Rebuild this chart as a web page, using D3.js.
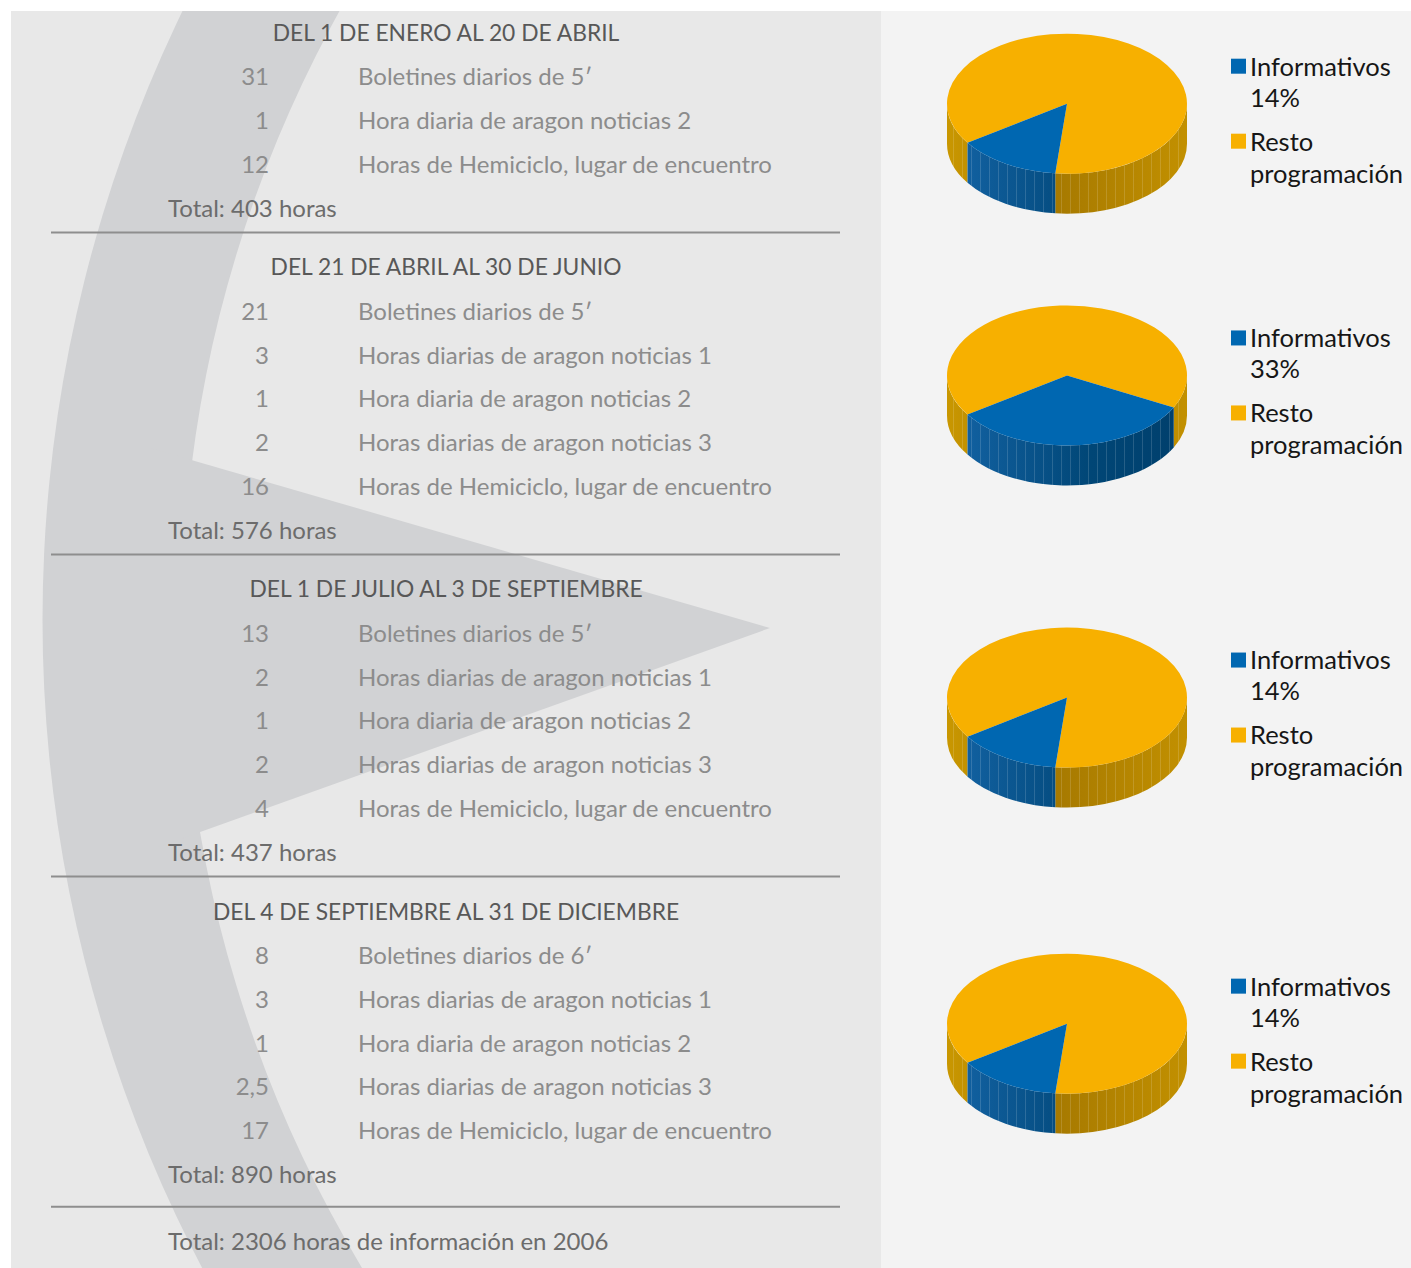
<!DOCTYPE html>
<html>
<head>
<meta charset="utf-8">
<script src="https://cdn.jsdelivr.net/npm/d3@7"></script>
<style>
	body { margin: 0; background: #fff; }
	svg { display: block; }
	text { font-family: Lato, 'Noto Sans', sans-serif; }
</style>
</head>
<body>
<script>
// data
const periods = [
	'DEL 1 DE ENERO AL 20 DE ABRIL',
	'DEL 21 DE ABRIL AL 30 DE JUNIO',
	'DEL 1 DE JULIO AL 3 DE SEPTIEMBRE',
	'DEL 4 DE SEPTIEMBRE AL 31 DE DICIEMBRE',
]
const hours = [
	[31, 1, 12],
	[21, 3, 1, 2, 16],
	[13, 2, 1, 2, 4],
	[8, 3, 1, 2.5, 17],
]
const programmes = [
	['Boletines diarios de 5′', 'Hora diaria de aragon noticias 2', 'Horas de Hemiciclo, lugar de encuentro'],
	['Boletines diarios de 5′', 'Horas diarias de aragon noticias 1', 'Hora diaria de aragon noticias 2', 'Horas diarias de aragon noticias 3', 'Horas de Hemiciclo, lugar de encuentro'],
	['Boletines diarios de 5′', 'Horas diarias de aragon noticias 1', 'Hora diaria de aragon noticias 2', 'Horas diarias de aragon noticias 3', 'Horas de Hemiciclo, lugar de encuentro'],
	['Boletines diarios de 6′', 'Horas diarias de aragon noticias 1', 'Hora diaria de aragon noticias 2', 'Horas diarias de aragon noticias 3', 'Horas de Hemiciclo, lugar de encuentro'],
]
const totals = [403, 576, 437, 890]
const grandTotal = 2306
const year = 2006
const series = ['Informativos', 'Resto programación']
const informativosPct = [14, 33, 14, 14]

// layout
const W = 1411, H = 1268
const panel = { x: 11, y: 11, split: 881 }
const rowStep = 43.85
const col = { heading: 446, number: 269, label: 358, total: 168 }
const rule = { x1: 51, x2: 840 }
const pie = { cx: 1067, rx: 120, ry: 70, depth: 40 }
const legend = { x: 1231, size: 15, textX: 1250 }
const colors = {
	blue: '#0067b1', yellow: '#f7b000',
	heading: '#585858', row: '#8c8c8c', total: '#6c6c6c', rule: '#8e8e8e',
}

const esFormat = d3.formatLocale({ decimal: ',', thousands: '.', grouping: [3], currency: ['', '€'] }).format(',~r')

const svg = d3.select('body').append('svg')
	.attr('width', W)
	.attr('height', H)

const defs = svg.append('defs')

// backgrounds
svg.append('rect').attr('width', W).attr('height', H).attr('fill', '#fff')
svg.append('rect')
	.attr('x', panel.x).attr('y', panel.y)
	.attr('width', panel.split - panel.x).attr('height', H - panel.y)
	.attr('fill', '#e8e8e8')
svg.append('rect')
	.attr('x', panel.split).attr('y', panel.y)
	.attr('width', W - panel.split).attr('height', H - panel.y)
	.attr('fill', '#f3f3f3')

// decorative arrow band
defs.append('clipPath').attr('id', 'leftPanel')
	.append('rect')
	.attr('x', panel.x).attr('y', panel.y)
	.attr('width', panel.split - panel.x).attr('height', H - panel.y)

const band = svg.append('g').attr('clip-path', 'url(#leftPanel)')
band.append('path')
	.attr('transform', 'translate(1438, 620)')
	.attr('d', d3.arc()({ innerRadius: 1256, outerRadius: 1395, startAngle: Math.PI, endAngle: 2 * Math.PI }))
	.attr('fill', '#d1d2d4')
band.append('path')
	.attr('d', d3.line()([[150, 448], [770, 628], [150, 850]]) + 'Z')
	.attr('fill', '#d1d2d4')

// text blocks
const sections = []
let y = 33
periods.forEach((p, i) => {
	const top = i === 0 ? panel.y : sections[i - 1].ruleY
	const headingY = y
	const rowsY = hours[i].map((_, j) => headingY + rowStep * (j + 1))
	const totalY = headingY + rowStep * (hours[i].length + 1)
	const ruleY = totalY + (i === periods.length - 1 ? 32 : 24)
	sections.push({ top, headingY, rowsY, totalY, ruleY })
	y = ruleY + 35
})

const text = svg.append('g').attr('class', 'text')
sections.forEach((s, i) => {
	const g = text.append('g')
	g.append('text')
		.attr('x', col.heading).attr('y', s.headingY).attr('dy', '0.35em')
		.attr('text-anchor', 'middle')
		.attr('font-size', 22.8).attr('fill', colors.heading)
		.text(periods[i])
	g.selectAll('.num').data(hours[i]).join('text')
		.attr('class', 'num')
		.attr('x', col.number).attr('y', (d, j) => s.rowsY[j]).attr('dy', '0.35em')
		.attr('text-anchor', 'end')
		.attr('font-size', 24).attr('fill', colors.row)
		.text(d => esFormat(d))
	g.selectAll('.lbl').data(programmes[i]).join('text')
		.attr('class', 'lbl')
		.attr('x', col.label).attr('y', (d, j) => s.rowsY[j]).attr('dy', '0.35em')
		.attr('font-size', 24).attr('fill', colors.row)
		.text(d => d)
	g.append('text')
		.attr('x', col.total).attr('y', s.totalY).attr('dy', '0.35em')
		.attr('font-size', 24).attr('fill', colors.total)
		.text(`Total: ${totals[i]} horas`)
	g.append('line')
		.attr('x1', rule.x1).attr('x2', rule.x2)
		.attr('y1', s.ruleY).attr('y2', s.ruleY)
		.attr('stroke', colors.rule).attr('stroke-width', 2)
})
const last = sections[sections.length - 1]
text.append('text')
	.attr('x', col.total).attr('y', last.ruleY + 35).attr('dy', '0.35em')
	.attr('font-size', 24).attr('fill', colors.total)
	.text(`Total: ${grandTotal} horas de información en ${year}`)

// 3d pies
const k = pie.ry / pie.rx
const D = pie.depth / k

const yellowSide = defs.append('linearGradient').attr('id', 'yellowSide')
	.attr('gradientUnits', 'userSpaceOnUse')
	.attr('x1', -pie.rx).attr('x2', pie.rx).attr('y1', 0).attr('y2', 0)
yellowSide.append('stop').attr('offset', 0).attr('stop-color', '#c99700')
yellowSide.append('stop').attr('offset', 0.45).attr('stop-color', '#a67900')
yellowSide.append('stop').attr('offset', 1).attr('stop-color', '#c29000')
const blueSide = defs.append('linearGradient').attr('id', 'blueSide')
	.attr('gradientUnits', 'userSpaceOnUse')
	.attr('x1', -pie.rx).attr('x2', pie.rx).attr('y1', 0).attr('y2', 0)
blueSide.append('stop').attr('offset', 0).attr('stop-color', '#1464a6')
blueSide.append('stop').attr('offset', 0.6).attr('stop-color', '#004676')
blueSide.append('stop').attr('offset', 1).attr('stop-color', '#003f6c')

const streaks = defs.append('pattern').attr('id', 'streaks')
	.attr('patternUnits', 'userSpaceOnUse')
	.attr('width', 9).attr('height', 400)
streaks.append('rect').attr('x', 3).attr('width', 0.8).attr('height', 400)
	.attr('fill', '#fff').attr('opacity', 0.18)

const endAngle = 236 * Math.PI / 180
const pieLayout = d3.pie()
	.sort(null)
	.value(d => d.value)
	.startAngle(endAngle)
	.endAngle(endAngle + 2 * Math.PI)
const arcTop = d3.arc().innerRadius(0).outerRadius(pie.rx)

const wallPath = (a0, a1) => {
	const p = d3.path()
	p.moveTo(pie.rx * Math.cos(a0), pie.rx * Math.sin(a0))
	p.arc(0, 0, pie.rx, a0, a1)
	p.lineTo(pie.rx * Math.cos(a1), D + pie.rx * Math.sin(a1))
	p.arc(0, D, pie.rx, a1, a0, true)
	p.closePath()
	return p.toString()
}

sections.forEach((s, i) => {
	const cy = (s.top + s.ruleY) / 2 - 18
	const data = [
		{ name: series[1], value: 100 - informativosPct[i], fill: colors.yellow, side: 'url(#yellowSide)' },
		{ name: series[0], value: informativosPct[i], fill: colors.blue, side: 'url(#blueSide)' },
	]
	const arcs = pieLayout(data)
	const g = svg.append('g')
		.attr('transform', `translate(${pie.cx}, ${cy}) scale(1, ${k})`)

	// front walls, screen angle range [0, PI]
	arcs.forEach(a => {
		const s0 = a.startAngle - Math.PI / 2
		const s1 = a.endAngle - Math.PI / 2
		for (let n = -1; n <= 2; n++) {
			const lo = Math.max(s0, 2 * Math.PI * n)
			const hi = Math.min(s1, 2 * Math.PI * n + Math.PI)
			if (lo < hi) {
				const d = wallPath(lo, hi)
				g.append('path').attr('d', d).attr('fill', a.data.side)
				g.append('path').attr('d', d).attr('fill', 'url(#streaks)')
			}
		}
	})

	g.selectAll('.top').data(arcs).join('path')
		.attr('class', 'top')
		.attr('d', arcTop)
		.attr('fill', d => d.data.fill)

	// legend
	const lg = svg.append('g').attr('transform', `translate(0, ${cy})`)
	lg.append('rect')
		.attr('x', legend.x).attr('y', -45)
		.attr('width', legend.size).attr('height', legend.size)
		.attr('fill', colors.blue)
	lg.append('text')
		.attr('x', legend.textX).attr('y', -37).attr('dy', '0.35em')
		.attr('font-size', 25.5).attr('fill', '#161616')
		.text(series[0])
	lg.append('text')
		.attr('x', legend.textX).attr('y', -6).attr('dy', '0.35em')
		.attr('font-size', 25.5).attr('fill', '#161616')
		.text(`${informativosPct[i]}%`)
	lg.append('rect')
		.attr('x', legend.x).attr('y', 30)
		.attr('width', legend.size).attr('height', legend.size)
		.attr('fill', colors.yellow)
	const words = series[1].split(' ')
	lg.selectAll('.rest').data(words).join('text')
		.attr('class', 'rest')
		.attr('x', legend.textX).attr('y', (d, j) => 38 + j * 32).attr('dy', '0.35em')
		.attr('font-size', 25.5).attr('fill', '#161616')
		.text(d => d)
})
</script>
</body>
</html>
